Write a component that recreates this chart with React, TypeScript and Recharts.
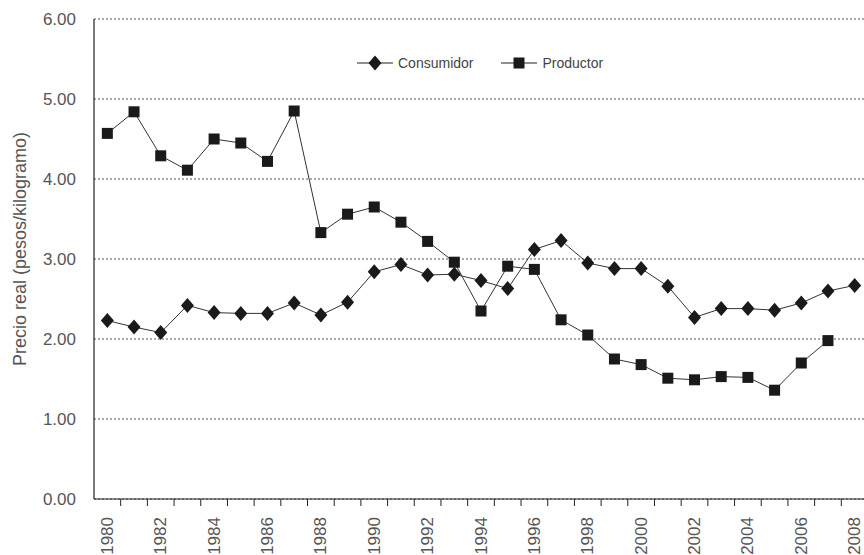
import React from 'react';
import { LineChart, Line, XAxis, YAxis, CartesianGrid, Legend } from 'recharts';

const years = [
  1980, 1981, 1982, 1983, 1984, 1985, 1986, 1987, 1988, 1989,
  1990, 1991, 1992, 1993, 1994, 1995, 1996, 1997, 1998, 1999,
  2000, 2001, 2002, 2003, 2004, 2005, 2006, 2007, 2008,
];
const consumidor = [
  2.23, 2.15, 2.08, 2.42, 2.33, 2.32, 2.32, 2.45, 2.3, 2.46,
  2.84, 2.93, 2.8, 2.81, 2.73, 2.63, 3.12, 3.23, 2.95, 2.88,
  2.88, 2.66, 2.27, 2.38, 2.38, 2.36, 2.45, 2.6, 2.67,
];
const productor: (number | null)[] = [
  4.57, 4.84, 4.29, 4.11, 4.5, 4.45, 4.22, 4.85, 3.33, 3.56,
  3.65, 3.46, 3.22, 2.96, 2.35, 2.91, 2.87, 2.24, 2.05, 1.75,
  1.68, 1.51, 1.49, 1.53, 1.52, 1.36, 1.7, 1.98, null,
];
const seriesNames = ['Consumidor', 'Productor'];
const yTicks = [0, 1, 2, 3, 4, 5, 6];
const labelYears = [1980, 1982, 1984, 1986, 1988, 1990, 1992, 1994, 1996, 1998, 2000, 2002, 2004, 2006, 2008];
const boundaryTicks = years.slice(0, -1).map((y) => y + 0.5);
const yLabel = 'Precio real (pesos/kilogramo)';

const data = years.map((year, i) => ({
  year,
  consumidor: consumidor[i],
  productor: productor[i],
}));

const FONT = '"Liberation Sans", Arial, sans-serif';
const MARK = '#1a1a1a';

const Diamond = (props: any) => {
  const { cx, cy } = props;
  if (cx == null || cy == null || isNaN(cy)) return null;
  const w = 6.5;
  const h = 7.5;
  return (
    <polygon
      points={`${cx},${cy - h} ${cx + w},${cy} ${cx},${cy + h} ${cx - w},${cy}`}
      fill={MARK}
    />
  );
};

const Square = (props: any) => {
  const { cx, cy } = props;
  if (cx == null || cy == null || isNaN(cy)) return null;
  const s = 5.5;
  return <rect x={cx - s} y={cy - s} width={2 * s} height={2 * s} fill={MARK} />;
};

const XTick = (props: any) => {
  const { x, y, payload } = props;
  const v = payload.value;
  if (!Number.isInteger(v)) {
    return <line x1={x} x2={x} y1={y} y2={y + 7} stroke="#222" strokeWidth={1} />;
  }
  const ty = y + 18;
  return (
    <text
      x={x}
      y={ty}
      transform={`rotate(-90, ${x}, ${ty})`}
      textAnchor="end"
      dominantBaseline="central"
      fontFamily={FONT}
      fontSize={17}
      fill="#555"
    >
      {v}
    </text>
  );
};

const LegendContent = () => (
  <div style={{ display: 'flex', alignItems: 'center', fontFamily: FONT, fontSize: 14, color: '#444' }}>
    {seriesNames.map((name, i) => (
      <div key={name} style={{ display: 'flex', alignItems: 'center', marginRight: i === 0 ? 28 : 0 }}>
        <svg width={36} height={18} style={{ marginRight: 5 }}>
          <line x1={0} x2={36} y1={9} y2={9} stroke="#222" strokeWidth={1.2} />
          {i === 0 ? (
            <polygon points="18,1.5 24.5,9 18,16.5 11.5,9" fill={MARK} />
          ) : (
            <rect x={12.5} y={3.5} width={11} height={11} fill={MARK} />
          )}
        </svg>
        <span>{name}</span>
      </div>
    ))}
  </div>
);

export default function App() {
  return (
    <div style={{ position: 'absolute', left: 0, top: 0, background: '#fff' }}>
      <LineChart width={864} height={555} data={data} margin={{ top: 19, right: 0, bottom: 0, left: 0 }}>
        <CartesianGrid vertical={false} stroke="#555" strokeDasharray="2 2" />
        <XAxis
          dataKey="year"
          type="number"
          domain={[1979.5, 2008.35]}
          allowDataOverflow
          ticks={[...labelYears, ...boundaryTicks].sort((a, b) => a - b)}
          interval={0}
          tick={<XTick />}
          tickLine={false}
          tickSize={0}
          tickMargin={0}
          height={56}
          axisLine={{ stroke: '#222', strokeWidth: 1.2 }}
        />
        <YAxis
          domain={[0, 6]}
          ticks={yTicks}
          interval={0}
          width={94}
          tickFormatter={(v: number) => v.toFixed(2)}
          tickLine={false}
          tickMargin={12}
          tick={{ fontFamily: FONT, fontSize: 17, fill: '#555' }}
          axisLine={{ stroke: '#222', strokeWidth: 1.2 }}
          label={{
            content: (p: any) => {
              const vb = p.viewBox || { y: 19, height: 480 };
              const cy = vb.y + vb.height / 2 - 10;
              return (
                <text
                  x={20}
                  y={cy}
                  transform={`rotate(-90, 20, ${cy})`}
                  textAnchor="middle"
                  dominantBaseline="central"
                  fontFamily={FONT}
                  fontSize={18}
                  fill="#555"
                >
                  {yLabel}
                </text>
              );
            },
          }}
        />
        <Legend
          layout="horizontal"
          verticalAlign="middle"
          align="center"
          content={<LegendContent />}
          wrapperStyle={{ position: 'absolute', top: 54, left: 357, width: 'auto' }}
        />
        <Line
          type="linear"
          dataKey="consumidor"
          name="Consumidor"
          stroke="#333"
          strokeWidth={1}
          dot={<Diamond />}
          activeDot={false}
          isAnimationActive={false}
        />
        <Line
          type="linear"
          dataKey="productor"
          name="Productor"
          stroke="#333"
          strokeWidth={1}
          dot={<Square />}
          activeDot={false}
          isAnimationActive={false}
        />
      </LineChart>
    </div>
  );
}
